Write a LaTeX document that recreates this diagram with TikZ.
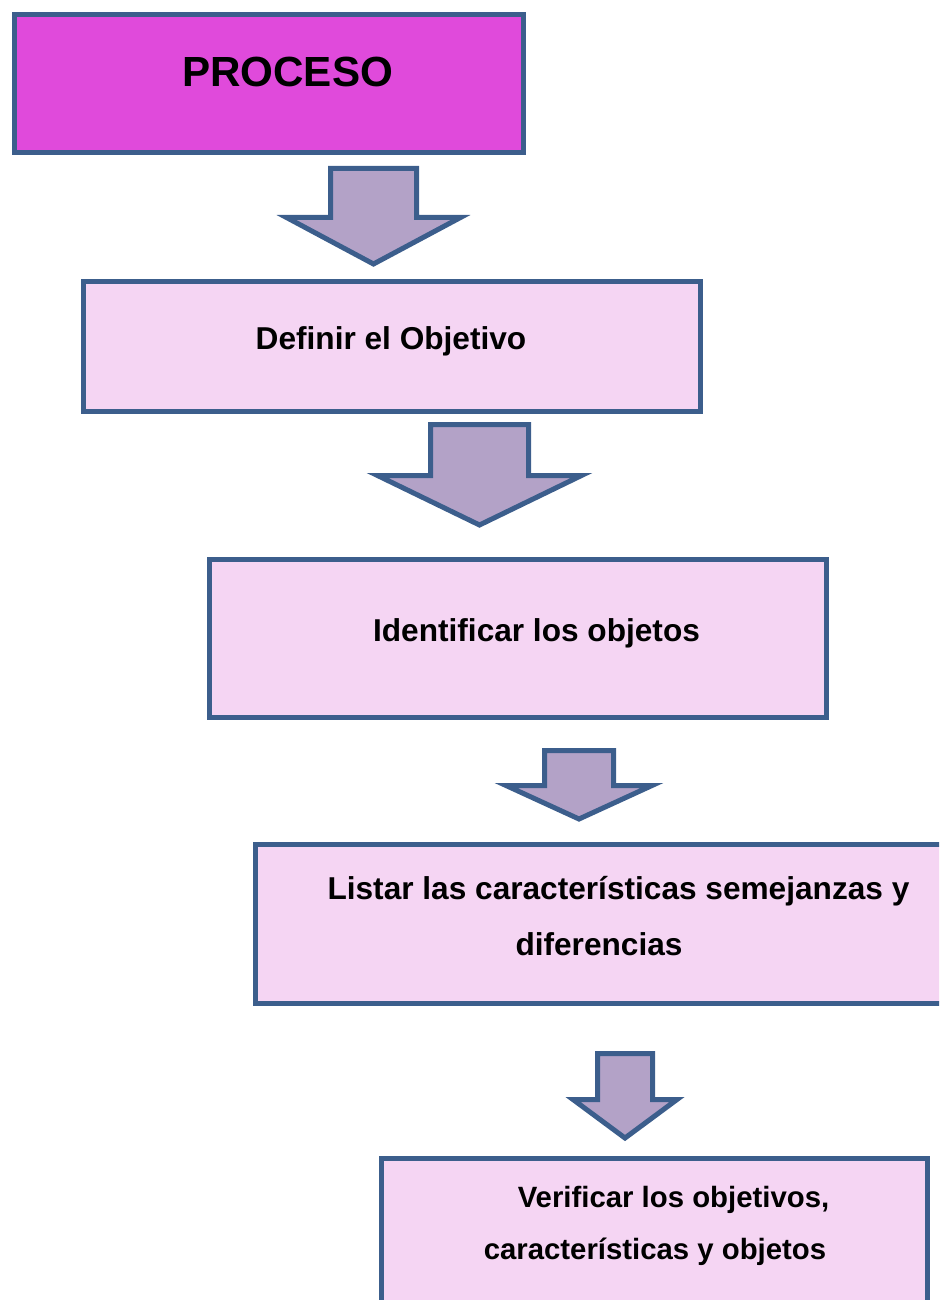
\documentclass[tikz,border=0pt]{standalone}
\usepackage{fontspec}
\setmainfont{Liberation Sans}
\usepackage{xcolor}
\usepackage{tikz}
\definecolor{bordeazul}{RGB}{60,94,140}
\definecolor{procesomagenta}{RGB}{224,74,219}
\definecolor{pasorosa}{RGB}{245,213,243}
\definecolor{flechalila}{RGB}{179,162,199}
\usetikzlibrary{positioning,calc}

\begin{document}
\begin{tikzpicture}[
    x=0.02cm, y=-0.02cm,
    caja/.style={rectangle, draw=bordeazul, line width=0.1cm, fill=pasorosa, inner sep=0pt},
    titulo/.style={caja, fill=procesomagenta},
    texto/.style={anchor=base, inner sep=0pt, font=\bfseries\fontsize{18}{22}\selectfont},
    textochico/.style={texto, font=\bfseries\fontsize{16.7}{20}\selectfont},
    flecha/.style={draw=bordeazul, line width=0.1cm, fill=flechalila, line join=miter}
]
\useasboundingbox (0,0) rectangle (939,1300);
\clip (0,0) rectangle (939,1300);

% Cajas
\node[titulo, minimum width=10.18cm, minimum height=2.76cm] (proceso) at (269,83.5) {};
\node[caja, minimum width=12.34cm, minimum height=2.6cm] (definir) at (392,346.5) {};
\node[caja, minimum width=12.34cm, minimum height=3.16cm] (identificar) at (518,638.5) {};
\node[caja, minimum width=14cm, minimum height=3.18cm] (listar) at (605.5,924) {};
\node[caja, minimum width=10.92cm, minimum height=3.2cm] (verificar) at (654.5,1238.5) {};

% Textos
\node[texto, font=\bfseries\fontsize{24}{28}\selectfont] (tproceso) at (287.5,87) {PROCESO};
\node[texto] (tdefinir) at (391,350) {Definir el Objetivo};
\node[texto] (tidentificar) at (536.5,641) {Identificar los objetos};
\node[texto] (tlistar) at (618.5,899) {Listar las características semejanzas y};
\node[texto] (tlistarb) at (599,955) {diferencias};
\node[textochico] (tverificar) at (673.5,1207) {Verificar los objetivos,};
\node[textochico] (tverificarb) at (655,1259) {características y objetos};

% Flechas
\draw[flecha] (330.5,168.5) -- (416.5,168.5) -- (416.5,217.5) -- (460.5,217.5) -- (373.5,264) -- (286.5,217.5) -- (330.5,217.5) -- cycle;
\draw[flecha] (430.5,424.5) -- (528.5,424.5) -- (528.5,475.5) -- (581.5,475.5) -- (479.5,525) -- (377.5,475.5) -- (430.5,475.5) -- cycle;
\draw[flecha] (544.5,750.5) -- (613.5,750.5) -- (613.5,785.5) -- (652,785.5) -- (579,819) -- (506,785.5) -- (544.5,785.5) -- cycle;
\draw[flecha] (597.5,1053.5) -- (652.5,1053.5) -- (652.5,1099.5) -- (677,1099.5) -- (625,1138) -- (573,1099.5) -- (597.5,1099.5) -- cycle;

\end{tikzpicture}
\end{document}
